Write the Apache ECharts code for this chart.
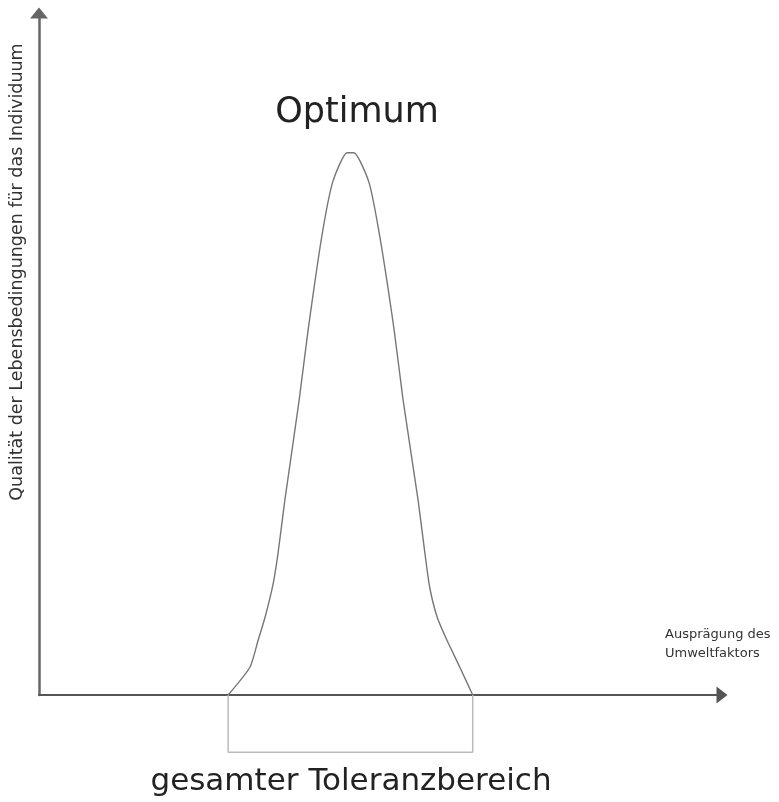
<!DOCTYPE html>
<html>
<head>
<meta charset="utf-8">
<script src="https://cdn.jsdelivr.net/npm/echarts@6/dist/echarts.min.js"></script>
<style>html,body{margin:0;padding:0;background:#fff;}#c{width:779px;height:802px;}</style>
</head>
<body>
<div id="c"></div>
<script>
// Tolerance curve (x: factor intensity, y: quality), abstract units 0..100
var curveX = [27.7, 30.9, 32.1, 33.1, 34.3, 35.0, 36.0, 38.1, 39.4, 41.4, 43.0, 45.1,
              46.1, 48.3, 49.9, 52.0, 53.3, 55.5, 56.5, 57.2, 58.3, 59.7, 61.6, 63.5];
var curveY = [0, 4.1, 8.1, 11.4, 16.4, 20.8, 28.6, 43.3, 53.5, 67.2, 75.2, 79.5,
              79.5, 75.2, 67.2, 53.5, 43.3, 28.6, 20.8, 15.8, 11.4, 8.1, 4.1, 0];
// Bracket marking the total tolerance range
var rangeX = [27.7, 27.7, 63.5, 63.5];
var rangeY = [0, -8.4, -8.4, 0];

var yLabel = 'Qualität der Lebensbedingungen für das Individuum';
var xLabel = 'Ausprägung des\nUmweltfaktors';
var peakLabel = 'Optimum';
var rangeLabel = 'gesamter Toleranzbereich';

function pairs(xs, ys) { return xs.map(function (v, i) { return [v, ys[i]]; }); }

var chart = echarts.init(document.getElementById('c'), null, { renderer: 'canvas' });
var font = '"DejaVu Sans", sans-serif';
chart.setOption({
  animation: false,
  backgroundColor: '#ffffff',
  grid: { left: 39, right: 57, top: 13, bottom: 107, containLabel: false },
  xAxis: {
    type: 'value', min: 0, max: 100,
    axisLine: { show: true, onZero: false, symbol: ['none', 'triangle'], symbolSize: [17, 11], lineStyle: { color: '#555', width: 2 } },
    axisTick: { show: false }, axisLabel: { show: false }, splitLine: { show: false }
  },
  yAxis: {
    type: 'value', min: 0, max: 100,
    axisLine: { show: true, onZero: false, symbol: ['none', 'triangle'], symbolSize: [18, 11], lineStyle: { color: '#666', width: 2.5 } },
    axisTick: { show: false }, axisLabel: { show: false }, splitLine: { show: false }
  },
  series: [
    {
      type: 'line', data: pairs(curveX, curveY), symbol: 'none', smooth: 0.2,
      lineStyle: { color: '#777', width: 1.4 }, z: 3
    },
    {
      type: 'line', data: pairs(rangeX, rangeY), symbol: 'none', clip: false,
      lineStyle: { color: '#bbb', width: 1.5 }, z: 1
    }
  ],
  graphic: [
    { type: 'text', x: 357, y: 113, style: { text: peakLabel, font: '35px ' + font, fill: '#222', align: 'center', verticalAlign: 'middle' } },
    { type: 'text', x: 351, y: 782, style: { text: rangeLabel, font: '31px ' + font, fill: '#222', align: 'center', verticalAlign: 'middle' } },
    { type: 'text', x: 17, y: 272, rotation: Math.PI / 2, style: { text: yLabel, font: '17.5px ' + font, fill: '#333', align: 'center', verticalAlign: 'middle' } },
    { type: 'text', x: 665, y: 625, style: { text: xLabel, font: '13px ' + font, fill: '#333', align: 'left', verticalAlign: 'top', lineHeight: 19 } }
  ]
});
</script>
</body>
</html>
